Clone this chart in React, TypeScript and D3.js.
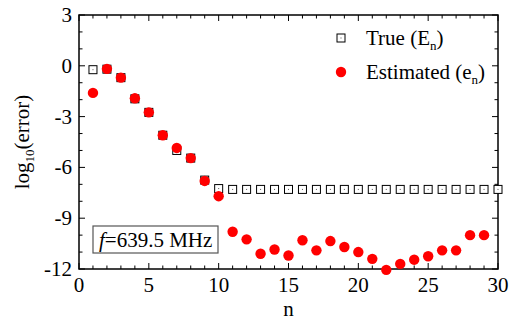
import React from "react";
import * as d3 from "d3";

const nTrue = d3.range(1, 31);
const trueVals = [-0.23, -0.2, -0.7, -1.95, -2.75, -4.1, -5.0, -5.45, -6.75, -7.25,
  -7.3, -7.3, -7.3, -7.3, -7.3, -7.3, -7.3, -7.3, -7.3, -7.3,
  -7.3, -7.3, -7.3, -7.3, -7.3, -7.3, -7.3, -7.3, -7.3, -7.3];
const nEst = d3.range(1, 30);
const estVals = [-1.6, -0.18, -0.7, -1.92, -2.75, -4.1, -4.85, -5.45, -6.8, -7.7,
  -9.8, -10.25, -11.1, -10.85, -11.2, -10.3, -10.9, -10.35, -10.7, -11.0,
  -11.4, -12.05, -11.7, -11.45, -11.25, -10.9, -10.9, -10.0, -10.0];
const xTicks = [0, 5, 10, 15, 20, 25, 30];
const yTicks = [3, 0, -3, -6, -9, -12];

const W = 516, H = 323;
const L = 79, R = 498, T = 15, B = 269;
const FONT = "Liberation Serif, DejaVu Serif, serif";
const txt = { fontFamily: FONT, fontSize: 21 };

export default function App() {
  const x = d3.scaleLinear().domain([0, 30]).range([L, R]);
  const y = d3.scaleLinear().domain([-12, 3]).range([B, T]);
  const xMinor = d3.range(0, 31, 1);
  const yMinor = d3.range(-12, 4, 1);
  const sq = 8;
  return (
    <svg width={W} height={H} style={{ position: "absolute", left: 0, top: 0, background: "#fff" }}>
      <g>
        {xMinor.map((v) => {
          const major = v % 5 === 0;
          const len = major ? 6 : 3.5;
          return (
            <g key={"xt" + v} stroke="#000" strokeWidth={1}>
              <line x1={x(v)} x2={x(v)} y1={B} y2={B - len} />
              <line x1={x(v)} x2={x(v)} y1={T} y2={T + len} />
            </g>
          );
        })}
        {yMinor.map((v) => {
          const major = v % 3 === 0;
          const len = major ? 6 : 3.5;
          return (
            <g key={"yt" + v} stroke="#000" strokeWidth={1}>
              <line x1={L} x2={L + len} y1={y(v)} y2={y(v)} />
              <line x1={R} x2={R - len} y1={y(v)} y2={y(v)} />
            </g>
          );
        })}
        <rect x={L} y={T} width={R - L} height={B - T} fill="none" stroke="#000" strokeWidth={1.5} />
      </g>
      <g style={txt} fill="#000">
        {xTicks.map((v) => (
          <text key={"xl" + v} x={x(v)} y={292} textAnchor="middle" style={txt}>{v}</text>
        ))}
        {yTicks.map((v) => (
          <text key={"yl" + v} x={72} y={y(v) + 7} textAnchor="end" style={txt}>{v}</text>
        ))}
        <text x={x(15)} y={316} textAnchor="middle" style={txt}>n</text>
        <text transform={`translate(29, ${(T + B) / 2}) rotate(-90)`} textAnchor="middle" style={txt}>
          log<tspan style={{ fontSize: 13 }} dy={5}>10</tspan><tspan dy={-5}>(error)</tspan>
        </text>
      </g>
      <g>
        {nTrue.map((n, i) => (
          <g key={"s" + n}>
            <rect x={x(n) - sq / 2} y={y(trueVals[i]) - sq / 2} width={sq} height={sq}
              fill="#fff" stroke="#000" strokeWidth={1} />
            <rect x={x(n) - 0.5} y={y(trueVals[i]) - 0.5} width={1} height={1} fill="#555" />
          </g>
        ))}
        {nEst.map((n, i) => (
          <circle key={"c" + n} cx={x(n)} cy={y(estVals[i])} r={5.2} fill="#ff0000" />
        ))}
      </g>
      <g fill="#000">
        <rect x={341 - sq / 2} y={38 - sq / 2} width={sq} height={sq} fill="#fff" stroke="#000" strokeWidth={1} />
        <rect x={340.5} y={37.5} width={1} height={1} fill="#555" />
        <text x={366} y={45} style={txt}>True (E<tspan style={{ fontSize: 13 }} dy={5}>n</tspan><tspan dy={-5}>)</tspan></text>
        <circle cx={341} cy={72} r={5.2} fill="#ff0000" />
        <text x={366} y={79} style={txt}>Estimated (e<tspan style={{ fontSize: 13 }} dy={5}>n</tspan><tspan dy={-5}>)</tspan></text>
      </g>
      <g>
        <rect x={93} y={226} width={125} height={27} fill="#fff" stroke="#555" strokeWidth={1.2} />
        <text x={99} y={247} style={txt}><tspan style={{ fontStyle: "italic" }}>f</tspan>=639.5 MHz</text>
      </g>
    </svg>
  );
}
